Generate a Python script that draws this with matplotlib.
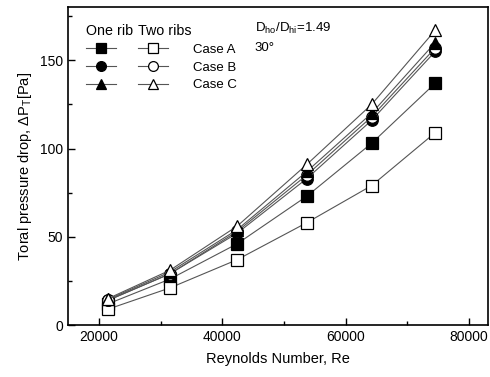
import numpy as np
import matplotlib
matplotlib.use("Agg")
import matplotlib.pyplot as plt
from matplotlib.ticker import MultipleLocator

plt.rcParams.update({"font.family": "Liberation Sans", "font.size": 10,
                     "mathtext.fontset": "custom", "mathtext.rm": "Liberation Sans",
                     "mathtext.it": "Liberation Sans:italic"})

re = [21500, 31500, 42400, 53700, 64200, 74500]
one_a = [12, 26, 46, 73, 103, 137]
two_a = [9, 21, 37, 58, 79, 109]
one_b = [14, 29, 52, 83, 116, 155]
two_b = [14, 29, 53, 85, 118, 157]
one_c = [14.5, 30, 54, 87, 120, 160]
two_c = [15, 31, 56, 91, 125, 167]

LINE = "#555555"
fig = plt.figure(figsize=(4.9, 3.77), dpi=100)
ax = fig.add_axes([0.1388, 0.1379, 0.8565, 0.8427])

series = [(one_a, "s", "k"), (two_a, "s", "w"),
          (one_b, "o", "k"), (two_b, "o", "w"),
          (one_c, "^", "k"), (two_c, "^", "w")]
h = []
for vals, mk, fc in series:
    ms = 9 if mk == "^" else 8.3
    ln, = ax.plot(re, vals, color=LINE, lw=0.8, marker=mk, ms=ms,
                  mfc=fc, mec="k", mew=0.9)
    h.append(ln)

ax.set_xlim(15000, 83000); ax.set_ylim(0, 180)
ax.xaxis.set_major_locator(MultipleLocator(20000))
ax.xaxis.set_minor_locator(MultipleLocator(10000))
ax.yaxis.set_major_locator(MultipleLocator(50))
ax.yaxis.set_minor_locator(MultipleLocator(25))
ax.tick_params(which="both", direction="in", labelsize=10)
ax.tick_params(which="major", length=5, width=1)
ax.tick_params(which="minor", length=3, width=1)
for s in ax.spines.values():
    s.set_linewidth(1.2)
ax.set_xlabel("Reynolds Number, Re", fontsize=10.5, labelpad=6)
ax.set_ylabel(r"Toral pressure drop, $\mathregular{\Delta P_T}$[Pa]", fontsize=10.5)

kw = dict(frameon=False, fontsize=9.5, title_fontsize=10.3, borderpad=0,
          handlelength=2.3, labelspacing=0.42, markerscale=0.85, loc="upper left")
leg1 = ax.legend([h[0], h[2], h[4]], ["", "", ""], title="One rib",
                 handletextpad=0, bbox_to_anchor=(0.026, 0.968), **kw)
leg1._legend_box.align = "left"
ax.add_artist(leg1)
leg2 = ax.legend([h[1], h[3], h[5]], ["Case A", "Case B", "Case C"], title="Two ribs",
                 handletextpad=1.9, bbox_to_anchor=(0.150, 0.968), **kw)
leg2._legend_box.align = "left"

ax.text(0.445, 0.932, r"$\mathregular{D_{ho}/D_{hi}}$=1.49", transform=ax.transAxes,
        fontsize=9.5, va="center")
ax.text(0.445, 0.872, "30°", transform=ax.transAxes, fontsize=9.5, va="center")

fig.savefig("out.png", dpi=100)
